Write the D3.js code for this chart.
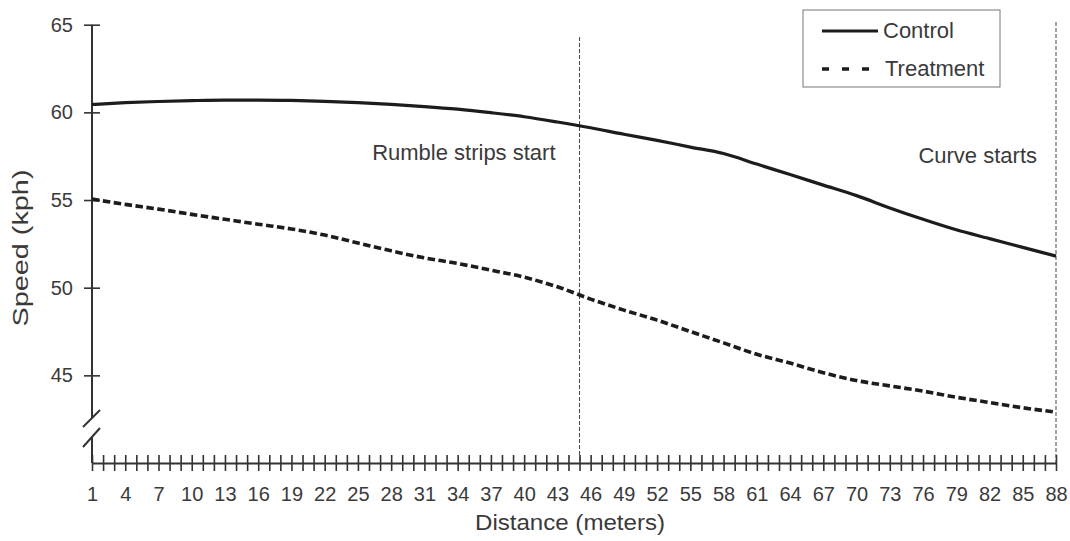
<!DOCTYPE html>
<html><head><meta charset="utf-8">
<script src="https://cdn.jsdelivr.net/npm/d3@7"></script>
<style>
body{margin:0;background:#fff}
text{font-family:"Liberation Sans",Arial,Helvetica,sans-serif;fill:#3a3a3a}
</style>
</head><body>
<svg id="c" width="1070" height="541"></svg>
<script>
// ---- data ----
const distance = [1,4,7,10,13,16,19,22,25,28,31,34,37,40,43,46,49,52,55,58,61,64,67,70,73,76,79,82,85,88];
const control = [60.45,60.55,60.62,60.67,60.70,60.70,60.68,60.63,60.55,60.45,60.33,60.18,59.98,59.75,59.45,59.12,58.75,58.40,58.02,57.65,57.05,56.45,55.85,55.25,54.55,53.90,53.30,52.80,52.30,51.80];
const treatment = [55.05,54.75,54.48,54.18,53.90,53.62,53.35,53.00,52.55,52.10,51.70,51.38,51.00,50.60,50.05,49.35,48.72,48.15,47.50,46.85,46.20,45.70,45.15,44.70,44.40,44.10,43.75,43.45,43.15,42.90];
const yTickValues = [45,50,55,60,65];
const xTickValues = d3.range(1, 89);
const xLabelValues = d3.range(1, 89, 3);
const markerPositions = [45, 88];
const markerLabels = ["Rumble strips start", "Curve starts"];
const seriesNames = ["Control", "Treatment"];

// ---- scales ----
const svg = d3.select("#c");
const x = d3.scaleLinear().domain([1, 88]).range([92, 1056]);
const y = d3.scaleLinear().domain([40, 65]).range([463, 24.7]);
const axisColor = "#333";

// ---- x axis ----
const gx = svg.append("g").attr("transform", `translate(0,${y(40)})`)
  .call(d3.axisBottom(x).tickValues(xTickValues)
    .tickFormat(d => xLabelValues.includes(d) ? d : "").tickSizeOuter(0));
gx.select(".domain").attr("stroke", axisColor).attr("stroke-width", 2);
gx.selectAll(".tick line").attr("y1", -8).attr("y2", 8).attr("stroke", axisColor).attr("stroke-width", 1.6);
gx.selectAll(".tick text").attr("y", 24).attr("dy", "0.71em").attr("font-size", 20)
  .style("fill", "#3a3a3a").attr("font-family", null);

// ---- y axis with break ----
const gy = svg.append("g").attr("transform", `translate(${x(1)},0)`)
  .call(d3.axisLeft(y).tickValues(yTickValues).tickSizeOuter(0));
gy.select(".domain").remove();
gy.selectAll(".tick line").attr("x1", -8).attr("x2", 8).attr("stroke", axisColor).attr("stroke-width", 1.6);
gy.selectAll(".tick text").attr("x", -19).attr("font-size", 20).style("fill", "#3a3a3a").attr("font-family", null);

const x0 = x(1);
svg.append("line").attr("x1", x0).attr("x2", x0).attr("y1", y(65)).attr("y2", 418)
  .attr("stroke", axisColor).attr("stroke-width", 2);
svg.append("line").attr("x1", x0).attr("x2", x0).attr("y1", 437).attr("y2", y(40))
  .attr("stroke", axisColor).attr("stroke-width", 2);
[[427, 410], [447, 428]].forEach(([a, b]) => {
  svg.append("line").attr("x1", x0 - 9).attr("y1", a).attr("x2", x0 + 8).attr("y2", b)
    .attr("stroke", axisColor).attr("stroke-width", 2);
});

// ---- marker lines ----
markerPositions.forEach((m, i) => {
  svg.append("line").attr("x1", x(m)).attr("x2", x(m))
    .attr("y1", i === 0 ? 37 : 22).attr("y2", y(40))
    .attr("stroke", "#444").attr("stroke-width", 1).attr("stroke-dasharray", "4,2");
  svg.append("text").attr("x", x(m) - (i === 0 ? 24 : 19)).attr("y", i === 0 ? 160 : 163)
    .attr("text-anchor", "end").attr("font-size", 22).text(markerLabels[i]);
});

// ---- lines ----
const line = d3.line().x((d, i) => x(distance[i])).y(d => y(d)).curve(d3.curveMonotoneX);
svg.append("path").datum(control).attr("d", line).attr("fill", "none")
  .attr("stroke", "#1c1c1c").attr("stroke-width", 3.2);
svg.append("path").datum(treatment).attr("d", line).attr("fill", "none")
  .attr("stroke", "#1c1c1c").attr("stroke-width", 3.6).attr("stroke-dasharray", "7.5,3.5");

// ---- axis titles ----
svg.append("text").attr("x", 570).attr("y", 530).attr("text-anchor", "middle")
  .attr("font-size", 22).attr("textLength", 190).attr("lengthAdjust", "spacingAndGlyphs")
  .text("Distance (meters)");
svg.append("text").attr("transform", "translate(28,248) rotate(-90)").attr("text-anchor", "middle")
  .attr("font-size", 22).attr("textLength", 157).attr("lengthAdjust", "spacingAndGlyphs")
  .text("Speed (kph)");

// ---- legend ----
const lg = svg.append("g");
lg.append("rect").attr("x", 803).attr("y", 10).attr("width", 197).attr("height", 77)
  .attr("fill", "#fff").attr("stroke", "#777").attr("stroke-width", 1);
lg.append("line").attr("x1", 822).attr("x2", 878).attr("y1", 31).attr("y2", 31)
  .attr("stroke", "#1c1c1c").attr("stroke-width", 3.2);
lg.append("line").attr("x1", 822).attr("x2", 872).attr("y1", 69).attr("y2", 69)
  .attr("stroke", "#1c1c1c").attr("stroke-width", 3.6).attr("stroke-dasharray", "7,13");
lg.append("text").attr("x", 883).attr("y", 38).attr("font-size", 22).text(seriesNames[0]);
lg.append("text").attr("x", 885).attr("y", 76).attr("font-size", 22).text(seriesNames[1]);
</script>
</body></html>
